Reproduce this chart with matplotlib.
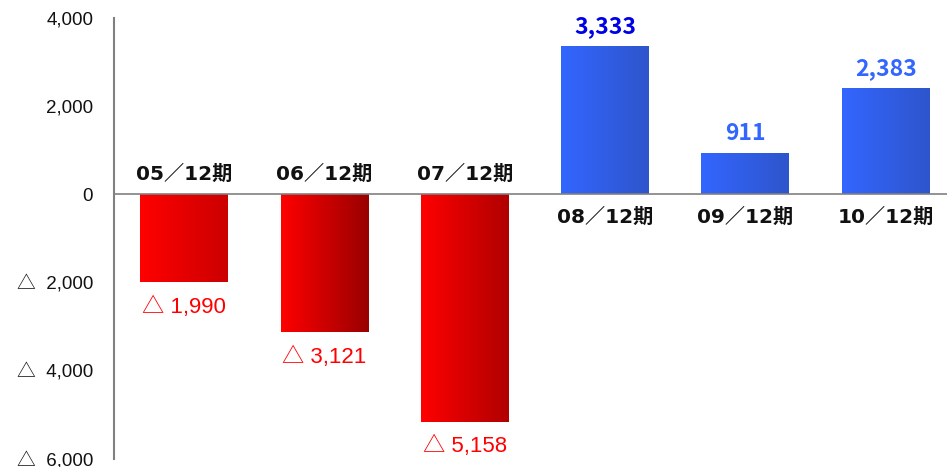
import numpy as np
import matplotlib.pyplot as plt
from matplotlib.colors import LinearSegmentedColormap
from matplotlib.ticker import FuncFormatter

plt.rcParams['font.family'] = ['DejaVu Sans', 'Noto Sans CJK JP']

# Data
periods = ['05／12期', '06／12期', '07／12期', '08／12期', '09／12期', '10／12期']
values = [-1990, -3121, -5158, 3333, 911, 2383]
value_labels = ['△ 1,990', '△ 3,121', '△ 5,158', '3,333', '911', '2,383']
yticks = [4000, 2000, 0, -2000, -4000, -6000]

# gradient end colours per bar (left, right)
grad = [('#FF0000', '#CC0000'), ('#FF0000', '#990000'), ('#FF0000', '#B00000'),
        ('#3366FF', '#2E55CC'), ('#3366FF', '#2E55CC'), ('#3366FF', '#2E55CC')]
label_colors = ['#FF0000', '#FF0000', '#FF0000', '#0000E6', '#3366FF', '#3366FF']

fig = plt.figure(figsize=(9.47, 4.67), dpi=100)
ax = fig.add_axes([0.1204, 0.0171, 0.889, 0.9454])

x = np.arange(len(periods))
bars = ax.bar(x, values, width=0.627, color='none', edgecolor='none', zorder=2)

# fill each bar with a horizontal gradient
ramp = np.linspace(0, 1, 256).reshape(1, -1)
for rect, (c0, c1) in zip(bars, grad):
    cmap = LinearSegmentedColormap.from_list('g', [c0, c1])
    x0, y0 = rect.get_x(), rect.get_y()
    w, h = rect.get_width(), rect.get_height()
    ax.imshow(ramp, cmap=cmap, aspect='auto', interpolation='bilinear',
              extent=[x0, x0 + w, y0, y0 + h], zorder=2)

ax.set_xlim(-0.5, 5.5)
ax.set_ylim(-6000, 4000)

# zero line and left axis
ax.axhline(0, color='#808080', lw=1.2, zorder=3)
for s in ['top', 'right', 'bottom']:
    ax.spines[s].set_visible(False)
ax.spines['left'].set_color('#808080')
ax.spines['left'].set_linewidth(1.5)

# Latin font first so the triangle comes from the CJK font (bigger glyph)
red_font = ['Liberation Sans', 'Noto Sans CJK JP']
blue_font = ['Noto Sans CJK JP', 'DejaVu Sans']

ax.set_xticks([])
ax.set_yticks(yticks)
ax.yaxis.set_major_formatter(FuncFormatter(
    lambda v, p: f'{int(v):,}' if v >= 0 else f'△  {int(-v):,}'))
ax.tick_params(axis='y', length=0, pad=15, labelsize=13.5, labelcolor='#111111')
for t in ax.get_yticklabels():
    t.set_family(red_font)

# category labels on the opposite side of the zero line, values at bar ends
for i, (v, name, lab, col) in enumerate(zip(values, periods, value_labels, label_colors)):
    if v < 0:
        ax.annotate(name, (i, 0), xytext=(0, 14), textcoords='offset points',
                    ha='center', va='center', fontsize=14.5, fontweight='bold', color='#111111')
        ax.annotate(lab, (i, v), xytext=(0, -18), textcoords='offset points',
                    ha='center', va='center', fontsize=16, color=col, family=red_font)
    else:
        ax.annotate(name, (i, 0), xytext=(0, -17), textcoords='offset points',
                    ha='center', va='center', fontsize=14.5, fontweight='bold', color='#111111')
        ax.annotate(lab, (i, v), xytext=(0, 15), textcoords='offset points',
                    ha='center', va='center', fontsize=16.5, fontweight='bold', color=col,
                    family=blue_font)

fig.savefig('out.png', dpi=100)
